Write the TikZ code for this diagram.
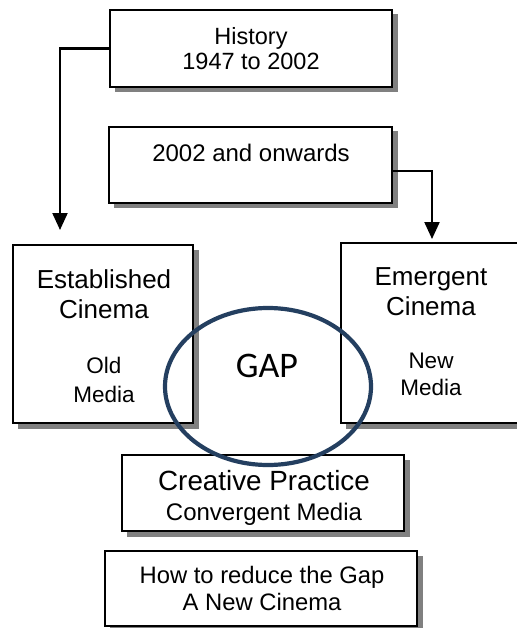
\documentclass[tikz,border=0pt]{standalone}
\usepackage{fontspec}
\setmainfont{Liberation Sans}
\newfontfamily\calibri{Carlito}
\usetikzlibrary{arrows.meta,shapes.geometric}
\definecolor{ringblue}{RGB}{36,63,96}
\definecolor{shadowgray}{RGB}{128,128,128}
\tikzset{
  box/.style={draw=black, line width=2.2pt, fill=white, inner sep=0pt},
  shade/.style={fill=shadowgray, draw=none, inner sep=0pt},
  lbl/.style={anchor=base, inner sep=0pt},
  arr/.style={line width=2.2pt, -{Triangle[length=17pt,width=15pt]}},
  ring/.style={draw=ringblue, line width=4.2pt, ellipse, inner sep=0pt}
}
\begin{document}
\begin{tikzpicture}[x=1pt,y=-1pt]
\useasboundingbox (0,0) rectangle (516,628);
% shadows
\node[shade, minimum width=283pt, minimum height=78pt] (s1) at (256,53.5) {};
\node[shade, minimum width=284pt, minimum height=77pt] (s2) at (255.5,170) {};
\node[shade, minimum width=181pt, minimum height=179pt] (s3) at (108,339) {};
\node[shade, minimum width=197pt, minimum height=181pt] (s4) at (444,338) {};
\node[shade, minimum width=283pt, minimum height=77pt] (s5) at (268,498) {};
\node[shade, minimum width=313pt, minimum height=76pt] (s6) at (266,593.5) {};
% boxes
\node[box, minimum width=282pt, minimum height=77pt] (hist) at (251,48.5) {};
\node[box, minimum width=283pt, minimum height=76pt] (onw) at (250.5,165) {};
\node[box, minimum width=180pt, minimum height=178pt] (est) at (103,334) {};
\node[box, minimum width=196pt, minimum height=180pt] (emg) at (439,333) {};
\node[box, minimum width=282pt, minimum height=76pt] (cre) at (263,493) {};
\node[box, minimum width=312pt, minimum height=75pt] (how) at (261,588.5) {};
% texts
\node[lbl, font=\fontsize{23.5}{25}\selectfont] (t1) at (251,45) {History};
\node[lbl, font=\fontsize{23.5}{25}\selectfont] (t2) at (251,70) {1947 to 2002};
\node[lbl, font=\fontsize{24}{26}\selectfont] (t3) at (251,162) {2002 and onwards};
\node[lbl, font=\fontsize{26}{28}\selectfont] (t4) at (104,288) {Established};
\node[lbl, font=\fontsize{26}{28}\selectfont] (t5) at (104,318) {Cinema};
\node[lbl, font=\fontsize{22.5}{24}\selectfont] (t6) at (104,373) {Old};
\node[lbl, font=\fontsize{22.5}{24}\selectfont] (t7) at (104,402) {Media};
\node[lbl, font=\fontsize{26}{28}\selectfont] (t8) at (431,285) {Emergent};
\node[lbl, font=\fontsize{26}{28}\selectfont] (t9) at (431,315) {Cinema};
\node[lbl, font=\fontsize{22.5}{24}\selectfont] (t10) at (431,368) {New};
\node[lbl, font=\fontsize{22.5}{24}\selectfont] (t11) at (431,395) {Media};
\node[lbl, font=\fontsize{27.8}{30}\selectfont] (t12) at (264,490) {Creative Practice};
\node[lbl, font=\fontsize{24}{26}\selectfont] (t13) at (264,520) {Convergent Media};
\node[lbl, font=\fontsize{23.8}{26}\selectfont] (t14) at (262,583) {How to reduce the Gap};
\node[lbl, font=\fontsize{23.8}{26}\selectfont] (t15) at (262,610) {A New Cinema};
% ring
\node[ring, minimum width=206pt, minimum height=157pt] (gap) at (268,386.5) {};
\node[lbl, font=\calibri\fontsize{36}{38}\selectfont] (gaptxt) at (267,377) {GAP};
% connectors
\coordinate (a1) at (60,230);
\coordinate (a2) at (432,239);
\draw[arr] (hist.west) -| (a1);
\draw[arr] ([yshift=-6pt]onw.east) -| (a2);
\end{tikzpicture}
\end{document}
